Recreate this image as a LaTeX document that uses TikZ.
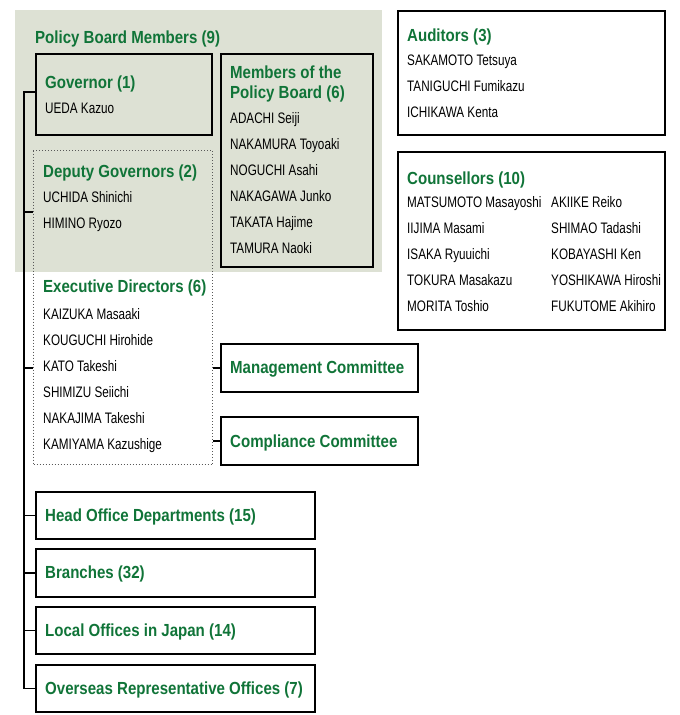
\documentclass[tikz,border=0pt]{standalone}
\usepackage{fontspec}
\setmainfont{Liberation Sans}[FakeStretch=0.86]
\newfontfamily\namefont{Liberation Sans}[FakeStretch=0.77]
\usepackage{xcolor}
\usetikzlibrary{positioning}
\definecolor{bojgreen}{RGB}{16,116,56}
\definecolor{boardbg}{RGB}{221,225,212}

\begin{document}
\begin{tikzpicture}[x=1pt, y=-1pt,
    box/.style={draw, line width=1.8pt, anchor=north west, inner sep=0pt},
    dotbox/.style={draw=black!65, dotted, line width=1pt, anchor=north west, inner sep=0pt},
    head/.style={anchor=base west, inner sep=0pt, text=bojgreen, font=\fontsize{17.5}{20}\selectfont\bfseries},
    member/.style={anchor=base west, inner sep=0pt, font=\namefont\fontsize{15.2}{18}\selectfont},
    link/.style={line width=1.3pt}
]
\useasboundingbox (0,0) rectangle (680,715);

% policy board area
\node[fill=boardbg, anchor=north west, inner sep=0pt, minimum width=367pt, minimum height=262pt] (board) at (15,10) {};
\node[head] (boardtitle) at (35,43) {Policy Board Members (9)};

% boxes
\node[dotbox, minimum width=179pt, minimum height=314pt] (exec) at (33,150) {};
\node[box, minimum width=176pt, minimum height=81pt] (gov) at (35,53) {};
\node[box, minimum width=152pt, minimum height=213pt] (pb) at (220,53) {};
\node[box, minimum width=197pt, minimum height=48pt] (mgmt) at (220,343) {};
\node[box, minimum width=197pt, minimum height=48pt] (comp) at (220,416) {};
\node[box, minimum width=279pt, minimum height=47pt] (hq) at (35,491) {};
\node[box, minimum width=279pt, minimum height=48pt] (br) at (35,548) {};
\node[box, minimum width=279pt, minimum height=47pt] (loc) at (35,606) {};
\node[box, minimum width=279pt, minimum height=47pt] (over) at (35,664) {};
\node[box, minimum width=267pt, minimum height=124pt] (aud) at (397,10) {};
\node[box, minimum width=267pt, minimum height=178pt] (cou) at (397,151) {};

% texts
\node[head] (govhd) at (45,88) {Governor (1)};
\node[member] (govname) at (45,113) {UEDA Kazuo};

\node[head] (pbhd1) at (230,78) {Members of the};
\node[head] (pbhd2) at (230,98) {Policy Board (6)};
\foreach \nm [count=\i from 0] in {ADACHI Seiji, NAKAMURA Toyoaki, NOGUCHI Asahi, NAKAGAWA Junko, TAKATA Hajime, TAMURA Naoki}
  \node[member] (pb\i) at (230,{123+26*\i}) {\nm};

\node[head] (dephd) at (43,177) {Deputy Governors (2)};
\foreach \nm [count=\i from 0] in {UCHIDA Shinichi, HIMINO Ryozo}
  \node[member] (dep\i) at (43,{202+26*\i}) {\nm};

\node[head] (exechd) at (43,292) {Executive Directors (6)};
\foreach \nm [count=\i from 0] in {KAIZUKA Masaaki, KOUGUCHI Hirohide, KATO Takeshi, SHIMIZU Seiichi, NAKAJIMA Takeshi, KAMIYAMA Kazushige}
  \node[member] (ed\i) at (43,{319+26*\i}) {\nm};

\node[head] (mgmthd) at (230,373) {Management Committee};
\node[head] (comphd) at (230,447) {Compliance Committee};
\node[head] (hqhd) at (45,521) {Head Office Departments (15)};
\node[head] (brhd) at (45,578) {Branches (32)};
\node[head] (lochd) at (45,636) {Local Offices in Japan (14)};
\node[head] (overhd) at (45,694) {Overseas Representative Offices (7)};

\node[head] (audhd) at (407,41) {Auditors (3)};
\foreach \nm [count=\i from 0] in {SAKAMOTO Tetsuya, TANIGUCHI Fumikazu, ICHIKAWA Kenta}
  \node[member] (aud\i) at (407,{65+26*\i}) {\nm};

\node[head] (couhd) at (407,184) {Counsellors (10)};
\foreach \l/\r [count=\i from 0] in {MATSUMOTO Masayoshi/AKIIKE Reiko, IIJIMA Masami/SHIMAO Tadashi, ISAKA Ryuuichi/KOBAYASHI Ken, TOKURA Masakazu/YOSHIKAWA Hiroshi, MORITA Toshio/FUKUTOME Akihiro} {
  \node[member] (coul\i) at (407,{207+26*\i}) {\l};
  \node[member] (cour\i) at (551,{207+26*\i}) {\r};
}

% connectors
\coordinate (spine) at (24,92);
\coordinate (deptick) at (24,212);
\draw[link] (gov.west |- spine) -- (spine) -- (spine |- over.west) -- (over.west);
\draw[link] (deptick) -- (exec.west |- deptick);
\draw[link] (spine |- mgmt.west) -- (exec.west |- mgmt.west);
\draw[link] (exec.east |- mgmt.west) -- (mgmt.west);
\draw[link] (exec.east |- comp.west) -- (comp.west);
\draw[link] (spine |- hq.west) -- (hq.west);
\draw[link] (spine |- br.west) -- (br.west);
\draw[link] (spine |- loc.west) -- (loc.west);
\end{tikzpicture}
\end{document}
